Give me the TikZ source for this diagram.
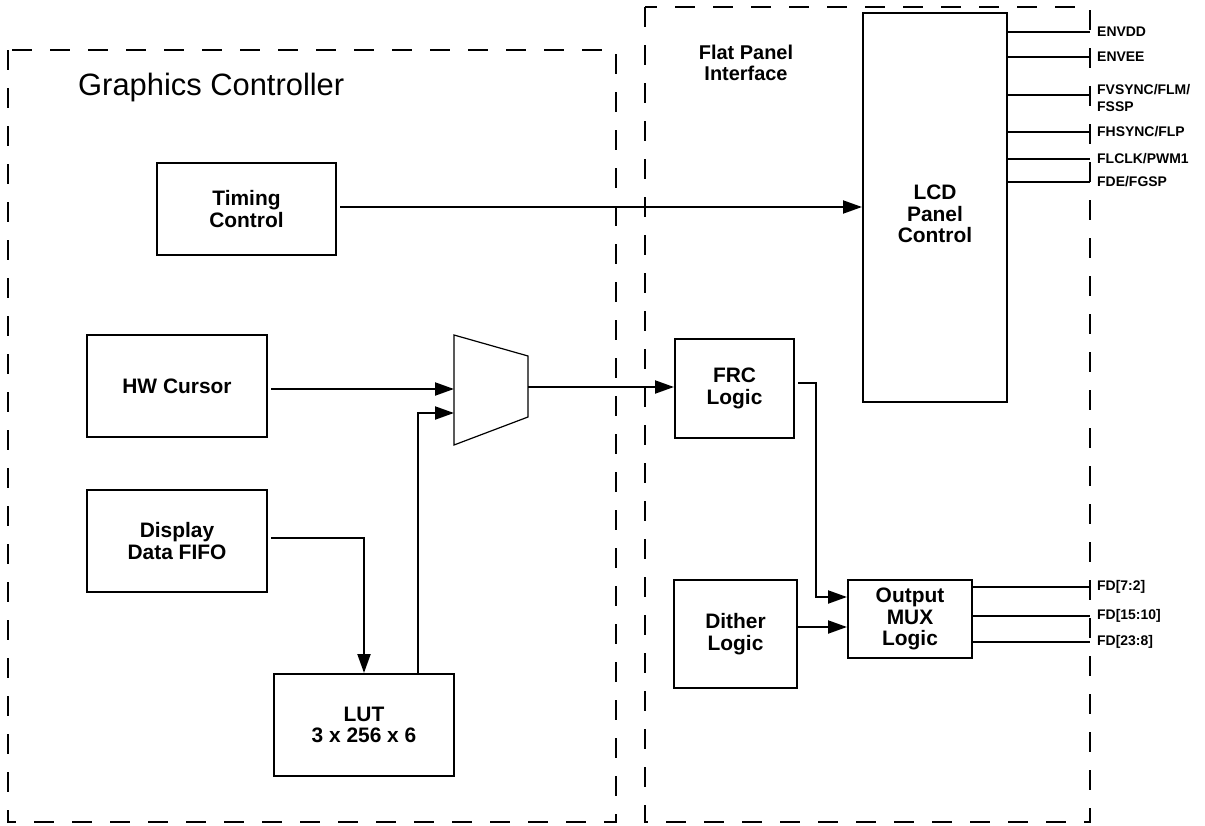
\documentclass[tikz,border=0pt]{standalone}
\usepackage{fontspec}
\setmainfont{Liberation Sans}
\usetikzlibrary{arrows.meta}
\begin{document}
\begin{tikzpicture}[x=1bp,y=-1bp,
  blk/.style={draw, line width=2bp, inner sep=0pt, align=center,
    font=\bfseries\fontsize{21}{21.5}\selectfont},
  txt/.style={inner sep=0pt, align=center, font=\bfseries\fontsize{21}{21.5}\selectfont},
  arr/.style={line width=2bp, -{Triangle[length=19bp,width=13bp]}},
  wire/.style={line width=2bp},
  sig/.style={anchor=west, inner xsep=7bp, inner ysep=0pt, align=left,
    font=\bfseries\fontsize{14}{17}\selectfont},
  region/.style={line width=2bp, dash pattern=on 20bp off 18bp}]
\useasboundingbox (0,0) rectangle (1205,826);

% dashed regions
\draw[region] (8,50) rectangle (616,822);
\draw[region] (645,7) rectangle (1090,822);
\node[inner sep=0pt, anchor=base west, font=\fontsize{31}{36}\selectfont] (gctitle) at (78,95) {Graphics Controller};
\node[inner sep=0pt, align=center, font=\bfseries\fontsize{20}{21}\selectfont] (fptitle) at (746,63) {Flat Panel\\Interface};

% blocks
\node[blk, minimum width=179bp, minimum height=92bp] (timing) at (246.5,209) {Timing\\Control};
\node[blk, minimum width=180bp, minimum height=102bp] (hwc) at (177,386) {HW Cursor};
\node[blk, minimum width=180bp, minimum height=102bp] (fifo) at (177,541) {Display\\Data FIFO};
\node[blk, minimum width=180bp, minimum height=102bp] (lut) at (364,725) {LUT\\3 x 256 x 6};
\node[blk, minimum width=144bp, minimum height=389bp] (lcd) at (935,207.5) {};
\node[txt] (lcdtxt) at (935,214) {LCD\\Panel\\Control};
\node[blk, minimum width=119bp, minimum height=99bp] (frc) at (734.5,388.5) {FRC\\Logic};
\node[blk, minimum width=123bp, minimum height=108bp] (dither) at (735.5,634) {Dither\\Logic};
\node[blk, minimum width=124bp, minimum height=78bp] (omux) at (910,619) {Output\\MUX\\Logic};

% multiplexer
\draw[line width=1.2bp] (454,335) -- (528,356) -- (528,417) -- (454,445) -- cycle;
\coordinate (muxin1) at (454,389);
\coordinate (muxin2) at (454,413);
\coordinate (muxout) at (528,387);

% connectors
\draw[arr, shorten <=3bp] (timing.east |- 0,207) -- (lcd.west |- 0,207);
\draw[arr, shorten <=3bp] (hwc.east |- muxin1) -- (muxin1);
\draw[arr, shorten <=3bp] (fifo.east |- 0,538) -| (lut.north);
\draw[arr] ([xshift=54bp]lut.north) |- (muxin2);
\draw[arr] (muxout) -- (frc.west |- muxout);
\draw[arr, shorten <=3bp] (frc.east |- 0,383) -| (816,597) -- (omux.west |- 0,597);
\draw[arr] (dither.east |- 0,627) -- (omux.west |- 0,627);

% LCD signals
\node[sig] (envdd) at (1090,32) {ENVDD};
\node[sig] (envee) at (1090,57) {ENVEE};
\coordinate (fvs) at (1090,95);
\node[sig, anchor=north west] (fvsync) at (1090,84.5) {FVSYNC/FLM/\\FSSP};
\node[sig] (fhsync) at (1090,132) {FHSYNC/FLP};
\node[sig] (flclk) at (1090,159) {FLCLK/PWM1};
\node[sig] (fde) at (1090,182) {FDE/FGSP};
\draw[wire] (lcd.east |- envdd) -- (envdd.west);
\draw[wire] (lcd.east |- envee) -- (envee.west);
\draw[wire] (lcd.east |- fvs) -- (fvs);
\draw[wire] (lcd.east |- fhsync) -- (fhsync.west);
\draw[wire] (lcd.east |- flclk) -- (flclk.west);
\draw[wire] (lcd.east |- fde) -- (fde.west);

% output MUX signals
\node[sig] (fd72) at (1090,587) {FD[7:2]};
\node[sig] (fd1510) at (1090,616) {FD[15:10]};
\node[sig] (fd238) at (1090,642) {FD[23:8]};
\draw[wire] (omux.east |- fd72) -- (fd72.west);
\draw[wire] (omux.east |- fd1510) -- (fd1510.west);
\draw[wire] (omux.east |- fd238) -- (fd238.west);
\end{tikzpicture}
\end{document}
